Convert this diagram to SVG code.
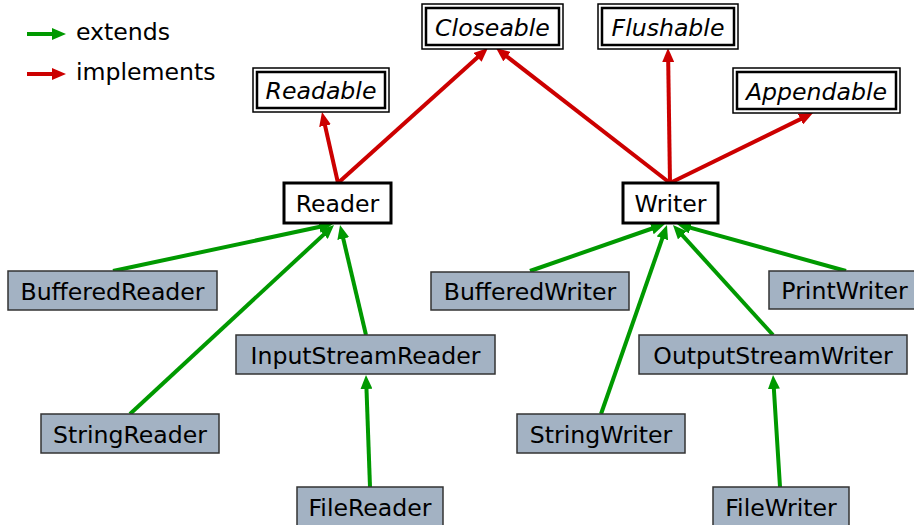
<svg xmlns="http://www.w3.org/2000/svg" width="914" height="525" viewBox="0 0 914 525">
  <style>
    text { font-family: "DejaVu Sans", Verdana, sans-serif; font-size: 23.6px; fill: #000; }
    .c { text-anchor: middle; }
    .iface text { font-style: italic; }
    .outer { fill: #fff; stroke: #000; stroke-width: 1.5; }
    .inner { fill: none; stroke: #000; stroke-width: 2.5; }
    .abstract rect { fill: #fff; stroke: #000; stroke-width: 3; }
    .cls rect { fill: #a3b2c3; stroke: #333; stroke-width: 1.5; }
    .impl { stroke: #cc0000; stroke-width: 4; fill: none; marker-end: url(#redHead); }
    .ext { stroke: #009900; stroke-width: 4; fill: none; marker-end: url(#greenHead); }
  </style>
  <defs>
    <marker id="redHead" viewBox="0 0 14 12" refX="8" refY="6" markerWidth="14" markerHeight="12" markerUnits="userSpaceOnUse" orient="auto">
      <path d="M0,0 L14,6 L0,12 z" fill="#cc0000"/>
    </marker>
    <marker id="greenHead" viewBox="0 0 14 12" refX="8" refY="6" markerWidth="14" markerHeight="12" markerUnits="userSpaceOnUse" orient="auto">
      <path d="M0,0 L14,6 L0,12 z" fill="#009900"/>
    </marker>
  </defs>

  <rect width="914" height="525" fill="#fff"/>

  <!-- legend -->
  <g id="legend">
    <line class="ext" x1="27" y1="34" x2="60" y2="34"/>
    <text x="76" y="40">extends</text>
    <line class="impl" x1="27" y1="74" x2="60" y2="74"/>
    <text x="76" y="80">implements</text>
  </g>

  <!-- connectors -->
  <g id="connectors">
    <line class="impl" x1="338" y1="183" x2="323.3" y2="117.9"/>
    <line class="impl" x1="338" y1="183" x2="483.5" y2="52"/>
    <line class="impl" x1="670" y1="183" x2="500.7" y2="51.7"/>
    <line class="impl" x1="670" y1="183" x2="668.1" y2="54"/>
    <line class="impl" x1="670" y1="183" x2="807.6" y2="115.6"/>

    <line class="ext" x1="113" y1="271" x2="327.1" y2="225.3"/>
    <line class="ext" x1="130" y1="414" x2="329.6" y2="229.1"/>
    <line class="ext" x1="366" y1="335" x2="341.4" y2="230.8"/>
    <line class="ext" x1="370" y1="487" x2="366.2" y2="381"/>

    <line class="ext" x1="530" y1="271" x2="659.3" y2="226"/>
    <line class="ext" x1="601" y1="414" x2="665" y2="230.7"/>
    <line class="ext" x1="773" y1="335" x2="677" y2="229.4"/>
    <line class="ext" x1="846" y1="271" x2="682.8" y2="225.6"/>
    <line class="ext" x1="780" y1="487" x2="773.4" y2="381"/>
  </g>

  <!-- interfaces -->
  <g id="Readable" class="iface">
    <rect class="outer" x="253" y="68" width="136" height="44"/>
    <rect class="inner" x="257" y="72" width="128" height="36"/>
    <text class="c" x="321" y="99">Readable</text>
  </g>
  <g id="Closeable" class="iface">
    <rect class="outer" x="422" y="4" width="141" height="45"/>
    <rect class="inner" x="426" y="8" width="133" height="37"/>
    <text class="c" x="492.5" y="35.5">Closeable</text>
  </g>
  <g id="Flushable" class="iface">
    <rect class="outer" x="598" y="4" width="140" height="45"/>
    <rect class="inner" x="602" y="8" width="132" height="37"/>
    <text class="c" x="668" y="35.5">Flushable</text>
  </g>
  <g id="Appendable" class="iface">
    <rect class="outer" x="733" y="68" width="167" height="45"/>
    <rect class="inner" x="737" y="72" width="159" height="37"/>
    <text class="c" x="816.5" y="99.5">Appendable</text>
  </g>

  <!-- abstract base classes -->
  <g id="Reader" class="abstract">
    <rect x="284" y="183" width="107" height="40"/>
    <text class="c" x="337.5" y="212">Reader</text>
  </g>
  <g id="Writer" class="abstract">
    <rect x="623" y="183" width="95" height="40"/>
    <text class="c" x="670.5" y="212">Writer</text>
  </g>

  <!-- concrete classes -->
  <g id="BufferedReader" class="cls">
    <rect x="8" y="271" width="209" height="39"/>
    <text class="c" x="112.5" y="299.5">BufferedReader</text>
  </g>
  <g id="InputStreamReader" class="cls">
    <rect x="236" y="335" width="259" height="39"/>
    <text class="c" x="365.5" y="363.5">InputStreamReader</text>
  </g>
  <g id="StringReader" class="cls">
    <rect x="41" y="414" width="178" height="39"/>
    <text class="c" x="130" y="442.5">StringReader</text>
  </g>
  <g id="FileReader" class="cls">
    <rect x="297" y="487" width="146" height="40"/>
    <text class="c" x="370" y="515.5">FileReader</text>
  </g>
  <g id="BufferedWriter" class="cls">
    <rect x="431" y="272" width="198" height="38"/>
    <text class="c" x="530" y="300">BufferedWriter</text>
  </g>
  <g id="PrintWriter" class="cls">
    <rect x="769" y="271" width="150" height="38"/>
    <text class="c" x="844.5" y="299">PrintWriter</text>
  </g>
  <g id="OutputStreamWriter" class="cls">
    <rect x="639" y="335" width="268" height="39"/>
    <text class="c" x="773" y="363.5">OutputStreamWriter</text>
  </g>
  <g id="StringWriter" class="cls">
    <rect x="517" y="414" width="168" height="39"/>
    <text class="c" x="601" y="442.5">StringWriter</text>
  </g>
  <g id="FileWriter" class="cls">
    <rect x="713" y="487" width="136" height="40"/>
    <text class="c" x="781" y="515.5">FileWriter</text>
  </g>
</svg>
